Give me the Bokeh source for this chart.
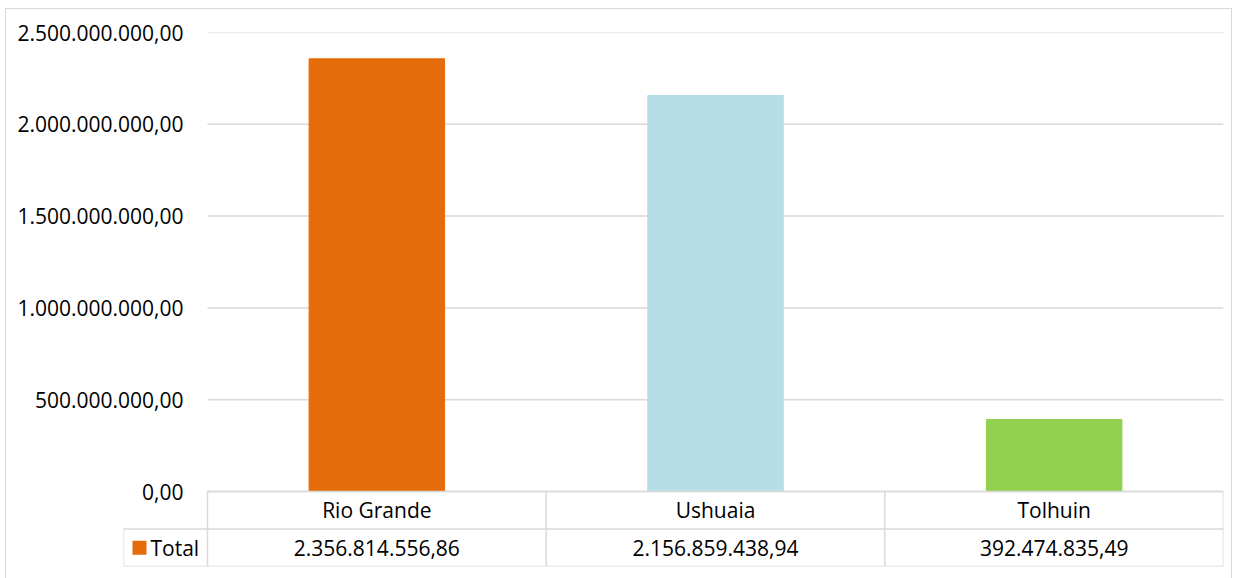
from bokeh.plotting import figure
from bokeh.models import FixedTicker, CustomJSTickFormatter, ColumnDataSource
from bokeh.core.properties import value
from bokeh.embed import file_html
from bokeh.resources import INLINE

# ---- data ----
categories = ["Rio Grande", "Ushuaia", "Tolhuin"]
totals = [2356814556.86, 2156859438.94, 392474835.49]
bar_colors = ["#E46C0A", "#B7DDE8", "#92D050"]
series_name = "Total"
y_ticks = [0, 500000000, 1000000000, 1500000000, 2000000000, 2500000000]


def fmt(v):
    s = f"{v:,.2f}"
    return s.replace(",", "X").replace(".", ",").replace("X", ".")


FONT = value("Open Sans")
FS = "21px"
GRID = "#D9D9D9"

# layout geometry (pixels); figure placed at page (5, 8)
W, H = 1227, 572
b_left, b_right, b_top, b_bottom = 117, 10, 23, 15
legend_px = 84               # legend cell width
row_px = 37.5                # table row height
frame_w = W - b_left - b_right
frame_h = H - b_top - b_bottom
cat_px = (frame_w - legend_px) / 3
plot_px = frame_h - 2 * row_px

y_max = y_ticks[-1]
u = y_max / plot_px          # data units per px (y)
y_min = -2 * row_px * u
x_min = -legend_px / cat_px
n = len(categories)

p = figure(width=W, height=H, output_backend="svg", toolbar_location=None,
           x_range=(x_min, n), y_range=(y_min, y_max),
           min_border_left=b_left, min_border_right=b_right,
           min_border_top=b_top, min_border_bottom=b_bottom)
p.styles = {"border": "1.5px solid #D9D9D9", "box-sizing": "border-box",
            "margin-left": "5px", "margin-top": "8px"}
p.xaxis.visible = False
p.xgrid.visible = False
p.ygrid.visible = False
p.outline_line_color = None
p.background_fill_color = "white"
p.border_fill_color = "white"

yax = p.yaxis[0]
yax.ticker = FixedTicker(ticks=y_ticks)
yax.formatter = CustomJSTickFormatter(code="""
const s = tick.toFixed(2); const parts = s.split('.');
return parts[0].replace(/\\B(?=(\\d{3})+(?!\\d))/g, '.') + ',' + parts[1];
""")
yax.axis_line_color = None
yax.major_tick_line_color = None
yax.minor_tick_line_color = None
yax.major_label_text_font = "Open Sans"
yax.major_label_text_font_size = FS
yax.major_label_text_color = "#000000"
yax.major_label_standoff = -66

# gridlines
p.segment(x0=[0] * len(y_ticks), x1=[n] * len(y_ticks), y0=y_ticks, y1=y_ticks,
          line_color=GRID, line_width=1.5)

# bars
xs = [i + 0.5 for i in range(n)]
src = ColumnDataSource(dict(x=xs, top=totals, color=bar_colors,
                            cat=categories, lab=[fmt(v) for v in totals]))
p.vbar(x="x", top="top", bottom=0, width=0.40, color="color", source=src)

# data table
r1 = -row_px * u
r2 = -2 * row_px * u
hx0 = [0, x_min, x_min] + [i for i in range(n + 1)]
hx1 = [n, n, n] + [i for i in range(n + 1)]
hy0 = [0, r1, r2] + [0] * (n + 1)
hy1 = [0, r1, r2] + [r2] * (n + 1)
p.segment(x0=hx0, x1=hx1, y0=hy0, y1=hy1, line_color=GRID, line_width=1.5)
p.segment(x0=[x_min], x1=[x_min], y0=[r1], y1=[r2], line_color=GRID, line_width=1.5)

p.text(x="x", y=r1 / 2, text="cat", source=src, text_font=FONT, text_font_size=FS,
       text_align="center", text_baseline="middle", text_color="#000000")
p.text(x="x", y=(r1 + r2) / 2, text="lab", source=src, text_font=FONT, text_font_size=FS,
       text_align="center", text_baseline="middle", text_color="#000000")

# legend key in table
p.scatter(x=[x_min + 16 / cat_px], y=[(r1 + r2) / 2], marker="square", size=14,
          color=bar_colors[0], line_color=None)
p.text(x=[x_min + 27 / cat_px], y=[(r1 + r2) / 2], text=[series_name], text_font=FONT,
       text_font_size=FS, text_align="left", text_baseline="middle", text_color="#000000")

open("out.html", "w").write(file_html(p, INLINE))
